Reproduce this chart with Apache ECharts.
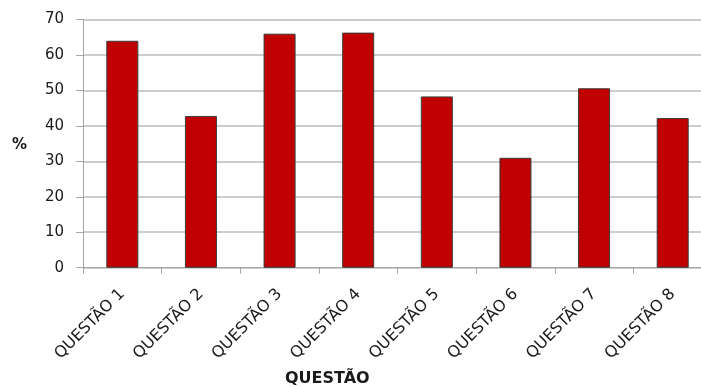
<!DOCTYPE html>
<html>
<head>
<meta charset="utf-8">
<script src="https://cdn.jsdelivr.net/npm/echarts@6/dist/echarts.min.js"></script>
<style>
  html, body { margin: 0; padding: 0; background: #fff; }
  #chart { width: 701px; height: 387px; }
</style>
</head>
<body>
<div id="chart"></div>
<script>
// Percentage of correct answers per question
const categories = ['QUESTÃO 1', 'QUESTÃO 2', 'QUESTÃO 3', 'QUESTÃO 4', 'QUESTÃO 5', 'QUESTÃO 6', 'QUESTÃO 7', 'QUESTÃO 8'];
const percentValues = [64, 42.8, 66, 66.3, 48.3, 31, 50.6, 42.2];
const yTicks = { min: 0, max: 70, step: 10 };
const xTitle = 'QUESTÃO';
const yTitle = '%';

const chart = echarts.init(document.getElementById('chart'), null, { renderer: 'canvas' });

chart.setOption({
  animation: false,
  backgroundColor: '#ffffff',
  textStyle: { fontFamily: 'DejaVu Sans' },
  // plot area runs past the right edge of the canvas
  grid: { left: 83, width: 629, top: 19.5, bottom: 119.3, containLabel: false, outerBoundsMode: 'none' },
  xAxis: {
    type: 'category',
    data: categories,
    boundaryGap: true,
    axisLine: { show: true, lineStyle: { color: '#a6a6a6', width: 1 } },
    axisTick: { show: true, alignWithLabel: false, length: 6, lineStyle: { color: '#a6a6a6', width: 1 } },
    axisLabel: {
      rotate: 45,
      interval: 0,
      margin: 24,
      fontSize: 16,
      color: '#1a1a1a',
      fontFamily: 'DejaVu Sans'
    },
    splitLine: { show: false }
  },
  yAxis: {
    type: 'value',
    min: yTicks.min,
    max: yTicks.max,
    interval: yTicks.step,
    axisLine: { show: true, lineStyle: { color: '#a6a6a6', width: 1 } },
    axisTick: { show: true, inside: false, length: 7, lineStyle: { color: '#a6a6a6', width: 1 } },
    axisLabel: { margin: 19, fontSize: 15, color: '#1a1a1a', fontFamily: 'DejaVu Sans' },
    splitLine: { show: true, lineStyle: { color: '#bdbdbd', width: 1.5 } }
  },
  graphic: [
    {
      type: 'text',
      left: 12,
      top: 138,
      style: { text: yTitle, font: 'bold 15px "DejaVu Sans"', fill: '#1a1a1a' }
    },
    {
      type: 'text',
      left: 285,
      top: 371,
      style: { text: xTitle, font: 'bold 16px "DejaVu Sans"', fill: '#1a1a1a' }
    }
  ],
  series: [{
    type: 'bar',
    data: percentValues,
    barWidth: 32,
    itemStyle: { color: '#c00000', borderColor: '#3a3a3a', borderWidth: 1 }
  }]
});
</script>
</body>
</html>
